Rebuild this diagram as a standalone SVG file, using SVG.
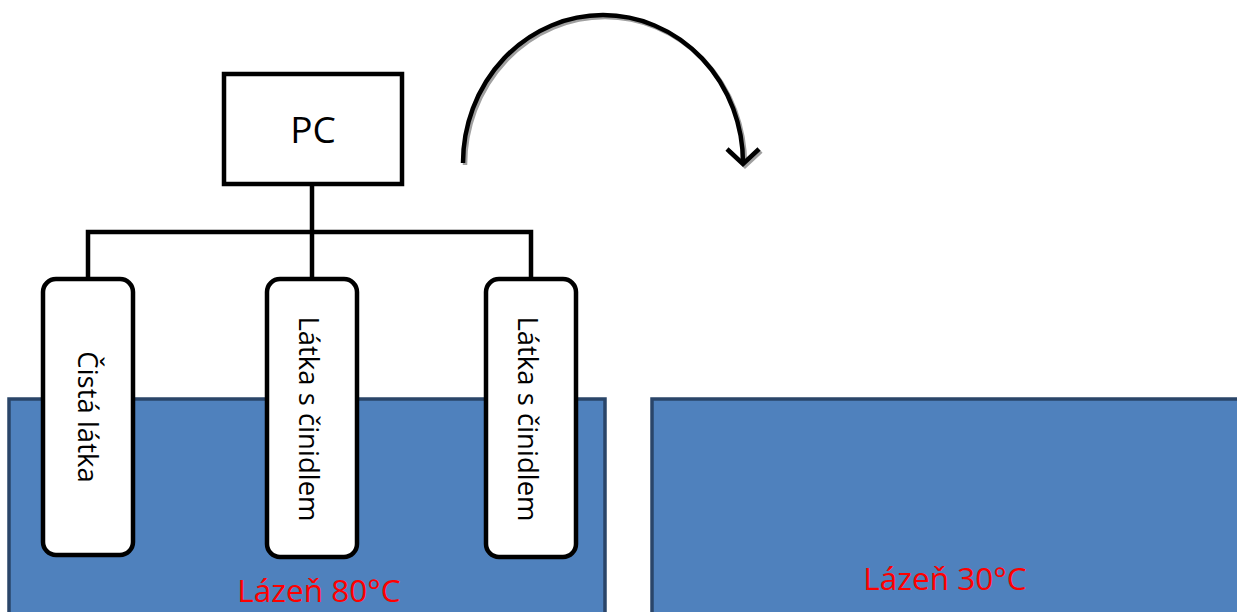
<svg xmlns="http://www.w3.org/2000/svg" width="1237" height="612" viewBox="0 0 1237 612">
<style>
.bath{fill:#4f81bd;stroke:#2a4569;stroke-width:3.5}
.tube{fill:#fff;stroke:#000;stroke-width:4.5}
.conn{fill:none;stroke:#000;stroke-width:4.5}
.lbl{font-family:"Open Sans","Liberation Sans",sans-serif;fill:#000}
.blbl{font-family:"Open Sans","Liberation Sans",sans-serif;fill:#ff0000;font-size:31.5px;text-anchor:middle}
</style>
<rect width="1237" height="612" fill="#fff"/>
<g id="bath-80">
<rect class="bath" x="9" y="399" width="596" height="230"/>
<text class="blbl" x="319" y="602">Lázeň 80°C</text>
</g>
<g id="bath-30">
<rect class="bath" x="652" y="399" width="600" height="230"/>
<text class="blbl" x="945" y="590">Lázeň 30°C</text>
</g>
<g id="connectors">
<line class="conn" x1="312" y1="184" x2="312" y2="279"/>
<polyline class="conn" points="88,279 88,232 531,232 531,279"/>
<g id="transfer-arrow">
<g transform="translate(2,2)" stroke="#a0a0a0" stroke-width="4.5" fill="none">
<path d="M463,163 A140,148 0 0 1 743,163"/>
<polyline points="727,149 743,164 759,149"/>
</g>
<g stroke="#000" stroke-width="4.5" fill="none">
<path d="M463,163 A140,148 0 0 1 743,163"/>
<polyline points="727,149 743,164 759,149"/>
</g>
</g>
</g>
<g id="pc">
<rect x="224" y="74" width="178" height="110" fill="#fff" stroke="#000" stroke-width="4.5"/>
<text class="lbl" x="313" y="143" font-size="37" text-anchor="middle">PC</text>
</g>
<g id="tube-1">
<rect class="tube" x="43" y="279" width="90" height="276" rx="13"/>
<text class="lbl" font-size="27.5" text-anchor="middle" transform="translate(78,417) rotate(90)">Čistá látka</text>
</g>
<g id="tube-2">
<rect class="tube" x="267" y="279" width="90" height="278" rx="13"/>
<text class="lbl" font-size="27.5" text-anchor="middle" transform="translate(299,419) rotate(90)">Látka s činidlem</text>
</g>
<g id="tube-3">
<rect class="tube" x="486" y="279" width="90" height="278" rx="13"/>
<text class="lbl" font-size="27.5" text-anchor="middle" transform="translate(518,419) rotate(90)">Látka s činidlem</text>
</g>
</svg>
